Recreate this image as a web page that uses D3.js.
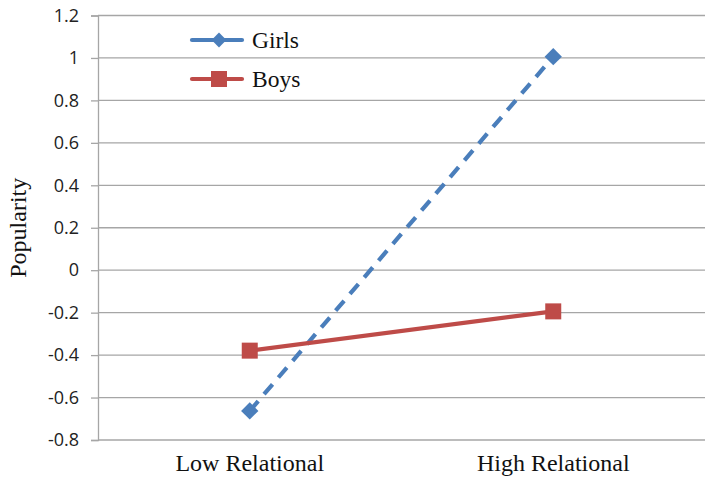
<!DOCTYPE html>
<html><head><meta charset="utf-8">
<script src="https://cdn.jsdelivr.net/npm/d3@7"></script>
<style>body{margin:0;background:#fff}</style></head>
<body><svg id="c" width="714" height="488"></svg>
<script>
const categories = ["Low Relational", "High Relational"];
const girls = [-0.663, 1.006];
const boys = [-0.379, -0.194];
const yTicks = [-0.8, -0.6, -0.4, -0.2, 0, 0.2, 0.4, 0.6, 0.8, 1, 1.2];
const yTickLabels = ["-0.8","-0.6","-0.4","-0.2","0","0.2","0.4","0.6","0.8","1","1.2"];
const seriesNames = ["Girls", "Boys"];

const svg = d3.select("#c");
const L = 98, R = 705, T = 15.5, B = 440;
const x = d3.scaleBand().domain(categories).range([L, R]);
const y = d3.scaleLinear().domain([-0.8, 1.2]).range([B, T]);
const grid = "#a6a6a6";

svg.append("g").selectAll("line").data(yTicks).join("line")
  .attr("x1", L).attr("x2", R).attr("y1", d => y(d)).attr("y2", d => y(d))
  .attr("stroke", grid).attr("stroke-width", 1.3);

const ya = svg.append("g").attr("transform", `translate(${L},0)`)
  .call(d3.axisLeft(y).tickValues(yTicks).tickSize(7).tickPadding(12)
    .tickFormat((d,i) => yTickLabels[i]));
ya.select(".domain").attr("stroke", grid).attr("stroke-width", 1.3);
ya.selectAll(".tick line").attr("stroke", grid).attr("stroke-width", 1.3);
ya.selectAll("text").attr("font-family", "'Open Sans', sans-serif").attr("font-size", 18).attr("fill", "#222");

const xa = svg.append("g").attr("transform", `translate(0,${B})`)
  .call(d3.axisBottom(x).tickSize(0).tickPadding(14));
xa.select(".domain").remove();
xa.selectAll("text").attr("font-family", "'Liberation Serif', 'Times New Roman', serif")
  .attr("font-size", 24).attr("fill", "#111");

svg.append("text").attr("transform", `translate(26,${(T+B)/2}) rotate(-90)`)
  .attr("text-anchor", "middle").attr("font-family", "'Liberation Serif', serif")
  .attr("font-size", 24).attr("fill", "#111").text("Popularity");

const cx = c => x(c) + x.bandwidth()/2;
const line = d3.line().x((d,i) => cx(categories[i])).y(d => y(d));
const blue = "#4a7ebb", red = "#be4b48";

svg.append("path").datum(girls).attr("d", line).attr("fill", "none")
  .attr("stroke", blue).attr("stroke-width", 4.2).attr("stroke-dasharray", "13,9");
svg.append("path").datum(boys).attr("d", line).attr("fill", "none")
  .attr("stroke", red).attr("stroke-width", 4.2);

const diamond = d3.symbol().type(d3.symbolSquare).size(150);
svg.append("g").selectAll("path").data(girls).join("path")
  .attr("d", diamond)
  .attr("transform", (d,i) => `translate(${cx(categories[i])},${y(d)}) rotate(45)`)
  .attr("fill", blue);
svg.append("g").selectAll("rect").data(boys).join("rect")
  .attr("x", (d,i) => cx(categories[i]) - 8).attr("y", d => y(d) - 8)
  .attr("width", 16).attr("height", 16).attr("fill", red);

const leg = svg.append("g");
const legY = [40, 79];
const colors = [blue, red];
seriesNames.forEach((n, i) => {
  const g = leg.append("g").attr("transform", `translate(0,${legY[i]})`);
  g.append("line").attr("x1", 192).attr("x2", 242).attr("y1", 0).attr("y2", 0)
    .attr("stroke", colors[i]).attr("stroke-width", 4.2).attr("stroke-linecap", "round");
  if (i === 0) {
    g.append("path").attr("d", d3.symbol().type(d3.symbolSquare).size(110)())
      .attr("transform", "translate(219,0) rotate(45)").attr("fill", blue);
  } else {
    g.append("rect").attr("x", 211).attr("y", -8).attr("width", 16).attr("height", 16).attr("fill", red);
  }
  g.append("text").attr("x", 252).attr("y", 8).attr("font-family", "'Liberation Serif', serif")
    .attr("font-size", 23.5).attr("fill", "#111").text(n);
});
</script></body></html>
